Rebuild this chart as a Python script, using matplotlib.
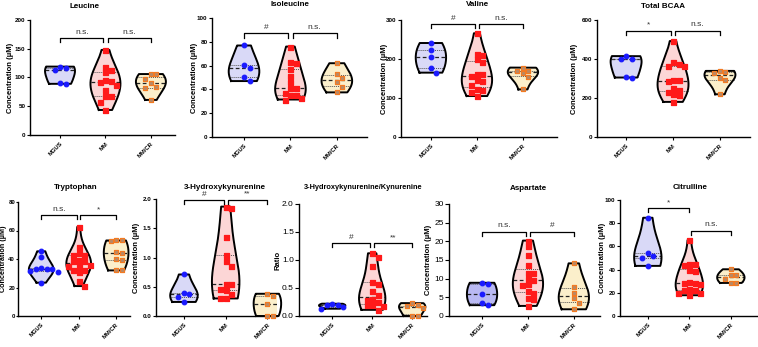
import numpy as np
import matplotlib
matplotlib.use("Agg")
import matplotlib.pyplot as plt

plt.rcParams['font.family'] = ['Liberation Sans', 'DejaVu Sans']

W, H = 758, 347
groups = ["MGUS", "MM", "MM/CR"]

# ---------------- data ----------------
leucine_mgus = [117, 119, 113, 89, 90]
leucine_mm = [148, 119, 109, 113, 96, 93, 94, 87, 79, 67, 67, 58, 43.5]
leucine_mmcr = [106, 106, 97, 90, 83, 81, 61]

isoleucine_mgus = [76.9, 60.6, 57.7, 50.1, 47]
isoleucine_mm = [76, 63.4, 62.5, 56.9, 51.3, 46.5, 40.8, 40.8, 37.2, 35.2, 35.2, 33, 31.5]
isoleucine_mmcr = [62, 53, 50, 46, 42.3, 37.5]

valine_mgus = [241, 223, 206, 176, 165]
valine_mm = [266, 214, 210, 199, 193, 161, 161, 157, 146, 143, 133, 124, 120, 116, 105]
valine_mmcr = [178, 170, 170, 163, 154, 122]

bcaa_mgus = [399, 415, 398, 305, 309]
bcaa_mm = [492, 386, 363, 365, 374, 291, 288, 291, 252, 243, 231, 223, 214, 180]
bcaa_mmcr = [333, 339, 329, 305, 291, 219]

trp_mgus = [45.4, 41.4, 33.2, 33.7, 33.2, 30.9, 31.3, 32.7, 23.4]
trp_mm = [62.5, 48.4, 44.4, 42.6, 42.6, 39, 38.4, 38.4, 35.6, 35.1, 35.1, 32, 30.9, 32, 24.3, 21]
trp_mmcr = [53, 52.6, 53, 45, 44.4, 40.2, 39, 32, 32]

hk_mgus = [0.71, 0.37, 0.40, 0.33, 0.24]
hk_mm = [1.87, 1.85, 1.35, 1.05, 0.94, 0.86, 0.54, 0.55, 0.44, 0.47, 0.38, 0.30, 0.30]
hk_mmcr = [0.38, 0.35, 0.21, 0.0, 0.0]

ratio_mgus = [0.13, 0.16, 0.19, 0.20, 0.22]
ratio_mm = [1.12, 1.06, 0.89, 0.58, 0.61, 0.44, 0.38, 0.31, 0.25, 0.29, 0.20, 0.19, 0.11, 0.17]
ratio_mmcr = [0.23, 0.18, 0.19, 0.14, 0.0, 0.0]

asp_mgus = [8.9, 8.6, 5.8, 3.6, 2.9]
asp_mm = [20.2, 18.8, 16.3, 13.6, 11.6, 11.6, 10, 9.6, 8.6, 8.3, 6.8, 6.1, 4.7, 4.5, 2.7]
asp_mmcr = [14.1, 7.9, 6.1, 4.7, 3.4, 1.8]

cit_mgus = [84.7, 51.6, 53.9, 49.6, 43.2]
cit_mm = [65.4, 43.8, 44.4, 44.4, 38.6, 39.5, 28.8, 28, 28.8, 29.4, 23, 22.2, 22, 20.2, 19.9, 17.9]
cit_mmcr = [40.3, 35.7, 35.7, 32.3, 28.5, 28.5]

titles = ["Leucine", "Isoleucine", "Valine", "Total BCAA", "Tryptophan",
          "3-Hydroxykynurenine", "3-Hydroxykynurenine/Kynurenine", "Aspartate", "Citrulline"]
series = [
    (leucine_mgus, leucine_mm, leucine_mmcr),
    (isoleucine_mgus, isoleucine_mm, isoleucine_mmcr),
    (valine_mgus, valine_mm, valine_mmcr),
    (bcaa_mgus, bcaa_mm, bcaa_mmcr),
    (trp_mgus, trp_mm, trp_mmcr),
    (hk_mgus, hk_mm, hk_mmcr),
    (ratio_mgus, ratio_mm, ratio_mmcr),
    (asp_mgus, asp_mm, asp_mmcr),
    (cit_mgus, cit_mm, cit_mmcr),
]
ylabels = ["Concentration (µM)"] * 6 + ["Ratio", "Concentration (µM)", "Concentration (µM)"]
ymax = [200, 100, 300, 600, 80, 2.0, 2.0, 30, 100]
ystep = [50, 20, 100, 200, 20, 0.5, 0.5, 5, 20]
tick_fmt = ["{:.0f}"] * 5 + ["{:.1f}", "{:.1f}", "{:.0f}", "{:.0f}"]
sig_labels = [("n.s.", "n.s."), ("#", "n.s."), ("#", "n.s."), ("*", "n.s."), ("n.s.", "*"),
              ("#", "**"), ("#", "**"), ("n.s.", "#"), ("*", "n.s.")]
sig_levels = [(169, 169), (87, 87), (290, 290), (545, 545), (70.6, 70.6),
              (1.98, 1.98), (1.30, 1.30), (22.6, 22.6), (92.8, 73.5)]

# ---------------- layout (pixels) ----------------
ax_px = [(30, 175, 20, 135), (212, 367, 18, 137), (401, 557, 20, 137), (597, 750, 20, 137),
         (18, 130, 202, 316), (156, 277, 199, 316), (299, 427, 204, 316), (449, 600, 204, 316),
         (620, 757, 200, 316)]
xlims = [(-0.66, 2.53), (-0.69, 2.65), (-0.65, 2.74), (-0.62, 2.64), (-0.62, 2.37),
         (-0.67, 2.23), (-0.83, 2.37), (-0.72, 2.57), (-0.67, 2.63)]
title_px = [(85, 6), (290, 5), (477, 5), (663, 6), (76, 188), (225, 188), (363, 188), (528, 189), (690, 188)]
ylabel_x = [10, 195, 384, 575, 4, 137, 278, 429, 603]
big_ticks = [False] * 6 + [True, True, False]

fills = ["#d9d9f7", "#fcd6d6", "#fbefcb"]
fill_asp = ["#b9b9f3", "#fcd6d6", "#fbefcb"]
pt_face = ["#1a1aff", "#ff1a1a", "#b58a6a"]
pt_edge = ["#1a1aff", "#ff1a1a", "#f37a22"]
pt_marker = ["o", "s", "s"]
pt_size = [3.3, 3.6, 3.0]


def kde_shape(vals, npts=200):
    v = np.asarray(vals, float)
    lo, hi = v.min(), v.max()
    sd = v.std(ddof=1) if len(v) > 1 else 1.0
    bw = 1.06 * sd * len(v) ** (-0.2) * 1.25
    g = np.linspace(lo, hi, npts)
    d = np.exp(-0.5 * ((g[:, None] - v[None, :]) / bw) ** 2).sum(1)
    return g, d / d.max()


def swarm(vals, xpu, ypu, dpx):
    v = np.asarray(vals, float)
    order = np.argsort(-v)
    placed = []
    offs = np.zeros(len(v))
    for i in order:
        yp = v[i] * ypu
        for k in [0, 1, -1, 2, -2, 3, -3, 4, -4]:
            xp = k * dpx
            ok = all((xp - px) ** 2 + (yp - py) ** 2 >= (dpx * 0.95) ** 2 for px, py in placed)
            if ok:
                placed.append((xp, yp))
                offs[i] = xp / xpu
                break
    return offs


fig = plt.figure(figsize=(W / 100, H / 100), dpi=100)
fig.patch.set_facecolor("white")

for p in range(9):
    x0, x1, yt, yb = ax_px[p]
    ax = fig.add_axes([x0 / W, 1 - yb / H, (x1 - x0) / W, (yb - yt) / H])
    ax.set_xlim(*xlims[p])
    ax.set_ylim(0, ymax[p])
    xpu = (x1 - x0) / (xlims[p][1] - xlims[p][0])
    ypu = (yb - yt) / ymax[p]
    for s in ["top", "right"]:
        ax.spines[s].set_visible(False)
    for s in ["left", "bottom"]:
        ax.spines[s].set_linewidth(1.0)
    fc = fill_asp if p == 7 else fills
    for gi, vals in enumerate(series[p]):
        g, d = kde_shape(vals)
        hw = 0.33 * d
        ax.fill_betweenx(g, gi - hw, gi + hw, facecolor=fc[gi], edgecolor="none", zorder=1)
        xs = np.concatenate([gi - hw, (gi + hw)[::-1], [gi - hw[0]]])
        ys = np.concatenate([g, g[::-1], [g[0]]])
        ax.plot(xs, ys, color="black", lw=1.4, zorder=3, clip_on=False, solid_joinstyle="round")
        q1, med, q3 = np.percentile(vals, [25, 50, 75])
        for qv, ls in [(q1, (0, (1, 1))), (med, (0, (3, 2))), (q3, (0, (1, 1)))]:
            w = 0.33 * np.interp(qv, g, d)
            ax.plot([gi - w, gi + w], [qv, qv], color="#222222" if qv == med else "#555555",
                    lw=0.9 if qv == med else 0.7, ls=ls, zorder=2)
        offs = swarm(vals, xpu, ypu, 5.5)
        ax.scatter(gi + offs, vals, marker=pt_marker[gi], s=pt_size[gi] ** 2 * 1.0,
                   facecolor=pt_face[gi], edgecolor=pt_edge[gi], linewidths=0.9,
                   zorder=4, clip_on=False)
    # significance brackets
    drop = ymax[p] * 0.035
    spans = [(0.0, 0.955), (1.045, 2.0)]
    if p == 8:
        spans = [(0.0, 1.0), (1.045, 2.0)]
    for (a, b), lab, lev in zip(spans, sig_labels[p], sig_levels[p]):
        ax.plot([a, a, b, b], [lev - drop, lev, lev, lev - drop], color="black", lw=0.9,
                clip_on=False, zorder=5)
        ax.text((a + b) / 2, lev + ymax[p] * 0.02, lab, ha="center", va="bottom",
                fontsize=6, color="#333333")
    # ticks
    ticks = np.arange(0, ymax[p] + ystep[p] / 2, ystep[p])
    ax.set_yticks(ticks)
    ax.set_yticklabels([tick_fmt[p].format(t) for t in ticks])
    ax.set_xticks([0, 1, 2])
    ax.set_xticklabels(groups, rotation=45, ha="right", rotation_mode="anchor",
                       fontsize=4.2, fontweight="bold")
    ax.tick_params(axis="x", length=2.5, width=0.8, pad=2)
    if big_ticks[p]:
        ax.tick_params(axis="y", length=3, width=0.8, labelsize=6, pad=0.8)
    elif p == 4:
        ax.tick_params(axis="y", length=1.5, width=0.8, labelsize=4.3, pad=0.6)
    else:
        ax.tick_params(axis="y", length=2, width=0.8, labelsize=4.5, pad=1.2)
    if not big_ticks[p]:
        for t in ax.get_yticklabels():
            t.set_fontweight("bold")
    ax.set_ylabel(ylabels[p], fontsize=5.5 if p != 4 else 5.2, fontweight="bold")
    ax.yaxis.set_label_coords((ylabel_x[p] - x0) / (x1 - x0), 0.5)
    ax.yaxis.label.set_va("center")
    tx, ty = title_px[p]
    fig.text(tx / W, 1 - ty / H, titles[p], ha="center", va="center",
             fontsize=5.8 if p != 6 else 5.3, fontweight="bold")

fig.savefig("out.png", dpi=100, facecolor="white")
